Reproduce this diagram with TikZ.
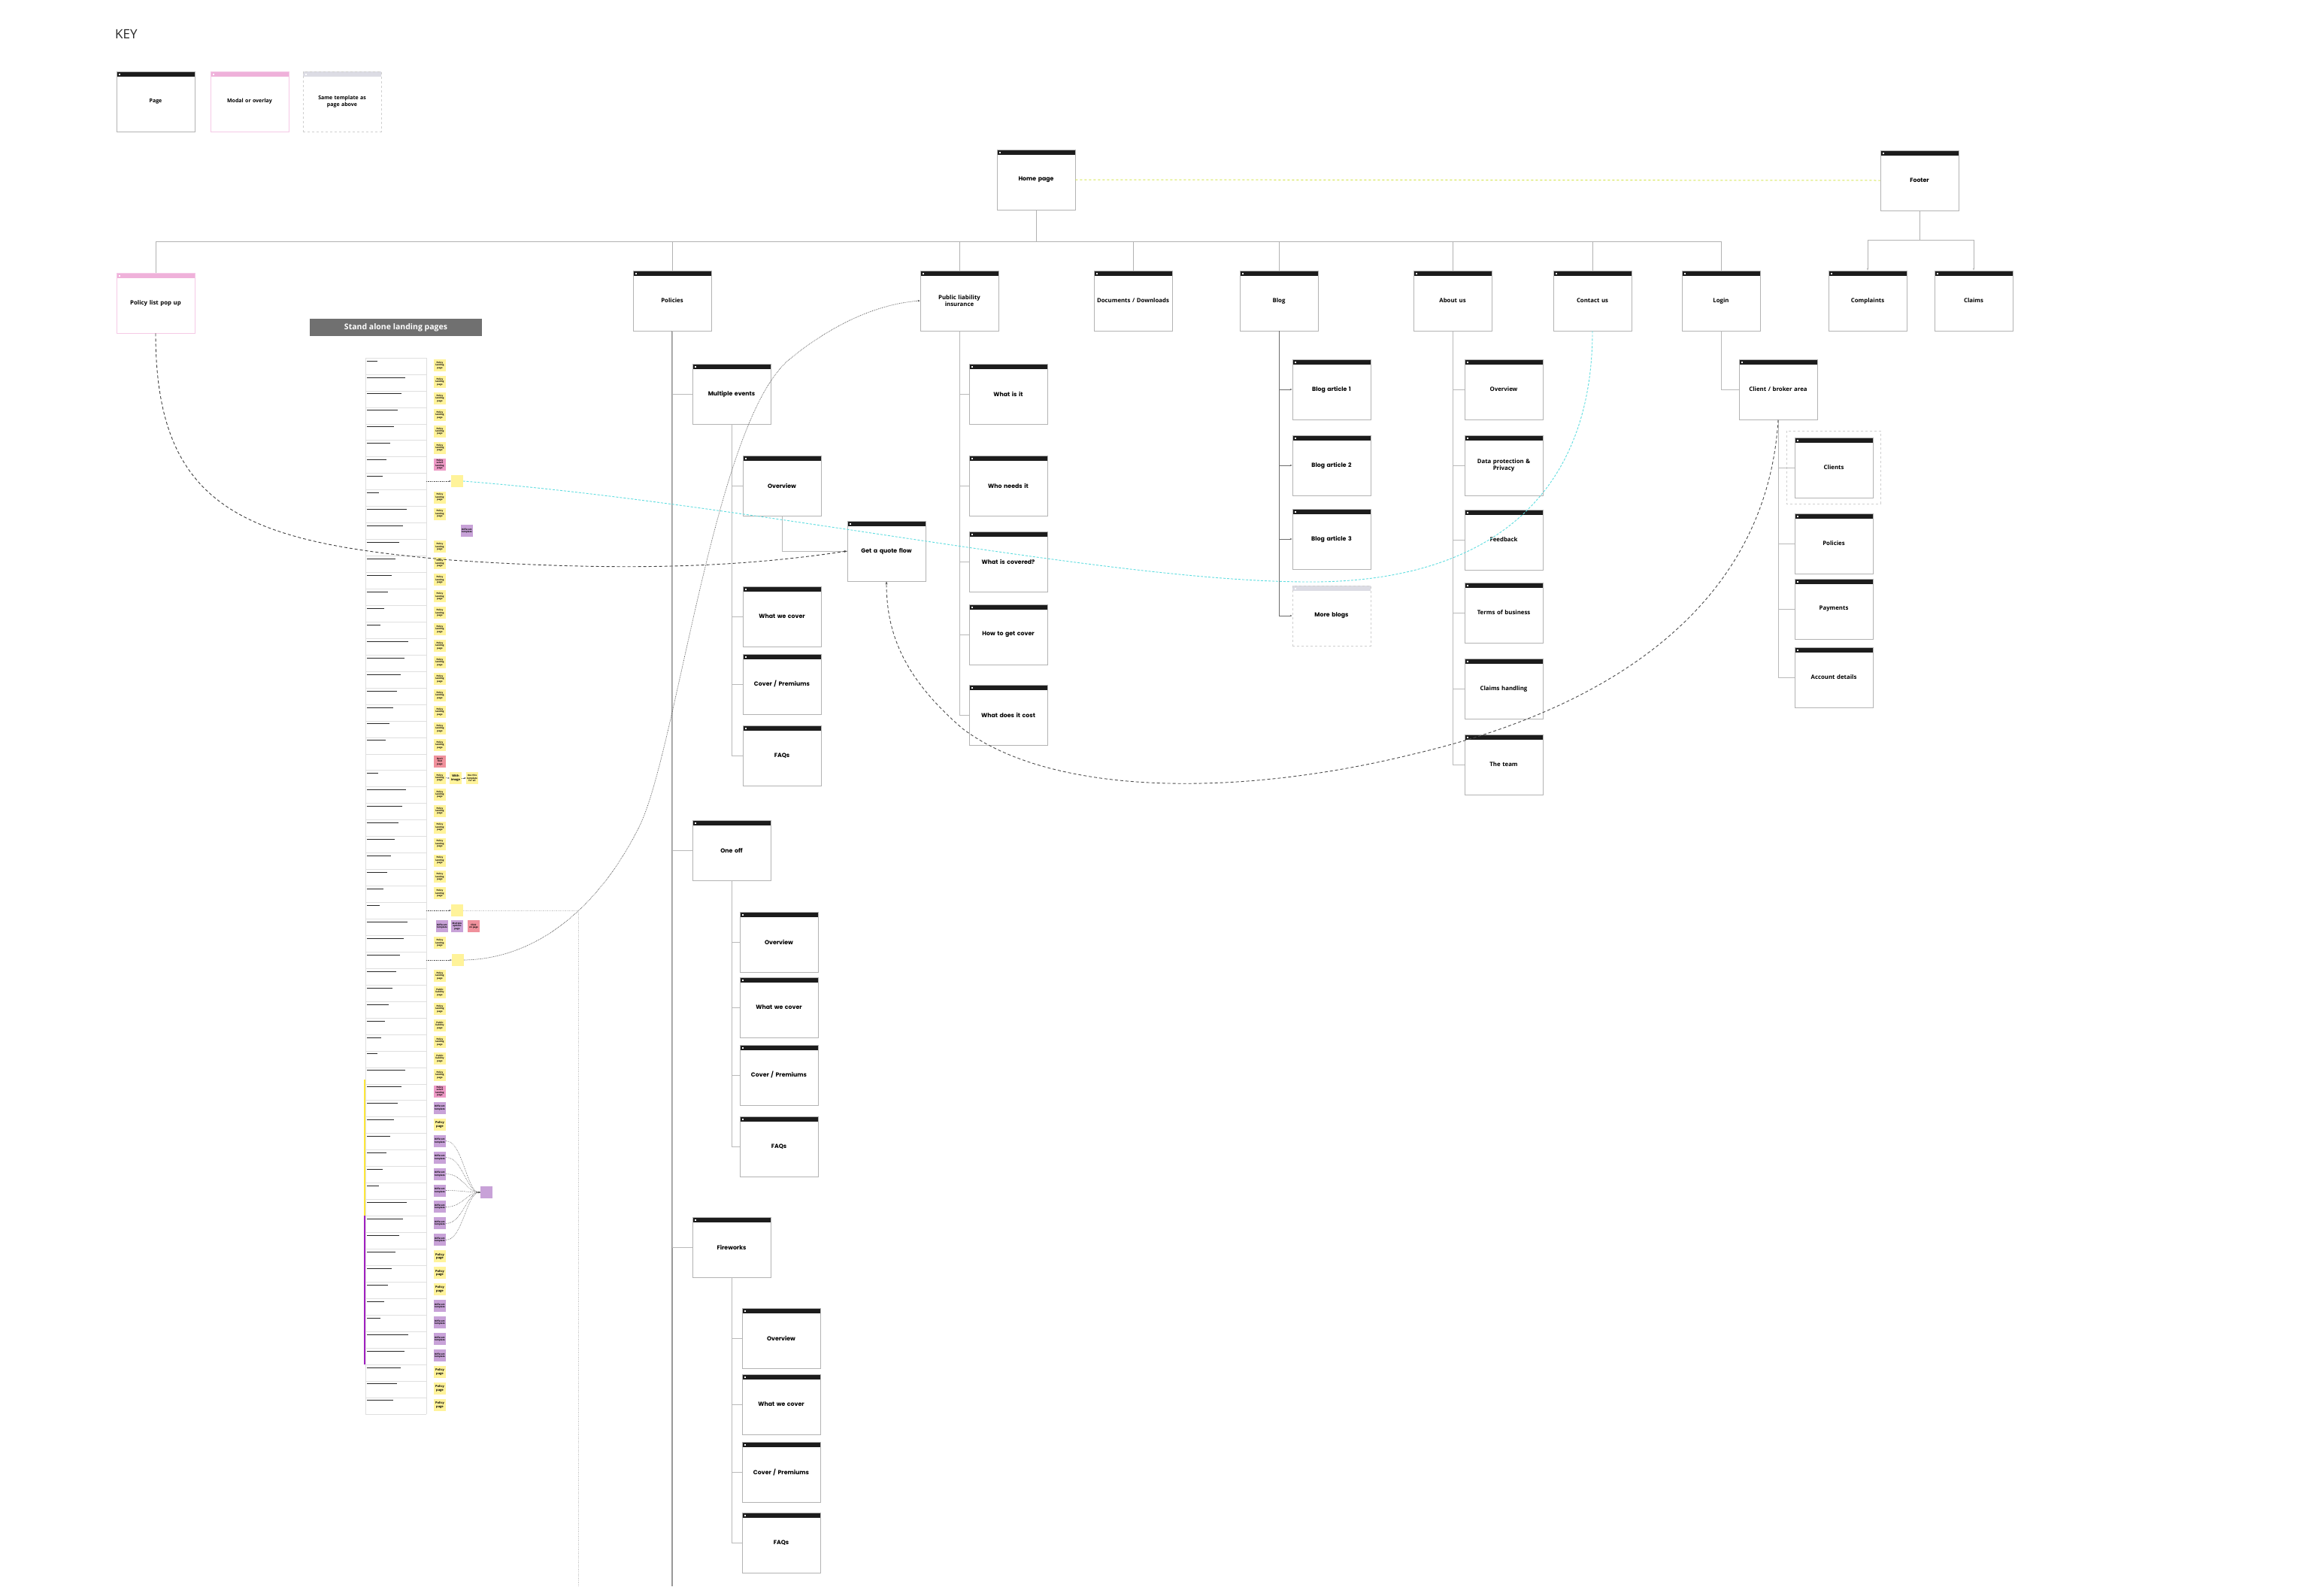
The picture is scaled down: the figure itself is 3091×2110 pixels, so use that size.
\documentclass[tikz,border=0pt]{standalone}
\usepackage{fontspec}
\setmainfont{Open Sans}
\newfontfamily\popp{Poppins}
\usetikzlibrary{arrows.meta}
\definecolor{hdr}{HTML}{1C1C1C}
\definecolor{bord}{HTML}{B3B3B3}
\definecolor{mhdr}{HTML}{EFB1DA}
\definecolor{mbord}{HTML}{F5C9E6}
\definecolor{thdr}{HTML}{DCDCE4}
\definecolor{tbord}{HTML}{CFCFCF}
\definecolor{cyanl}{HTML}{5EDDE0}
\definecolor{ygl}{HTML}{D6E650}
\definecolor{sy}{HTML}{FFF39A}
\definecolor{spk}{HTML}{EE9AC6}
\definecolor{srd}{HTML}{F0919C}
\definecolor{spu}{HTML}{C8A2D8}
\definecolor{barY}{HTML}{FFE83A}
\definecolor{barP}{HTML}{A020C0}
\newcommand\pfont{\popp\bfseries\fontsize{7.8}{9.5}\selectfont}
\newcommand\ofont{\bfseries\fontsize{7.8}{9.8}\selectfont}
\newcommand\kfont{\bfseries\fontsize{7}{9}\selectfont}
\newcommand\sfont{\bfseries\fontsize{3}{3.4}\selectfont}
\tikzset{
  hdrpic/.style={path picture={
    \fill[#1] (path picture bounding box.north west) rectangle ([yshift=-7pt]path picture bounding box.north east);
    \fill[white] ([xshift=2.5pt,yshift=-2.5pt]path picture bounding box.north west) rectangle ++(2pt,-2pt);}},
  pagebox/.style={draw=bord, line width=0.8pt, fill=white, minimum width=104pt, minimum height=80pt,
    inner sep=0pt, text width=96pt, align=center, font=\pfont, hdrpic=hdr},
  opage/.style={pagebox, font=\ofont},
  modalbox/.style={pagebox, draw=mbord, hdrpic=mhdr, font=\ofont},
  tmplbox/.style={pagebox, draw=tbord, dashed, hdrpic=thdr},
  conn/.style={draw=gray!55, line width=0.8pt},
  bus/.style={draw=gray!60, line width=1pt},
  trunk/.style={draw=gray!80, line width=2pt},
  darktrunk/.style={draw=gray!85!black, line width=1pt},
  arr/.style={-{Stealth[length=3pt,width=2.4pt]}},
  stk/.style={minimum width=16pt, minimum height=16pt, inner sep=0pt, text width=15.5pt, align=center, font=\sfont},
  yplp/.style={stk, fill=sy, node contents={Policy\\landing\\page}},
  ypub/.style={stk, fill=sy, node contents={Public\\liability\\page}},
  ypp/.style={stk, fill=sy, font=\bfseries\fontsize{4}{4.6}\selectfont, node contents={Policy\\page}},
  pksel/.style={stk, fill=spk, node contents={Policy select\\landing\\page}},
  pudt/.style={stk, fill=spu, node contents={Different\\template}},
  rowline/.style={draw=gray!25, line width=0.6pt},
  rowtxt/.style={draw=black!85, line width=0.9pt},
  dotarr/.style={draw=gray!70!black, densely dotted, line width=0.6pt, -{Stealth[length=2.5pt,width=2pt]}},
  fan/.style={draw=gray!70!black, densely dotted, line width=0.6pt, -{Stealth[length=2.5pt,width=2pt]}},
}
\begin{document}
\begin{tikzpicture}[x=1pt,y=-1pt]
\useasboundingbox (0,0) rectangle (3091,2110);
\fill[white] (0,0) rectangle (3091,2110);

% ---------- KEY ----------
\node[anchor=west, font=\fontsize{17}{20}\selectfont, text=black!85, inner sep=0pt] (key) at (153,45) {KEY};
\node[opage, font=\kfont] (kpage) at (207,135) {Page};
\node[modalbox, font=\kfont] (kmodal) at (332,135) {Modal or overlay};
\node[tmplbox, font=\kfont] (ktmpl) at (455,135) {Same template as\\page above};

% ---------- top level ----------
\node[pagebox] (home) at (1378,239) {Home page};
\node[pagebox] (footer) at (2553,240) {Footer};

\node[modalbox] (plp) at (207,403) {Policy list pop up};
\node[opage] (pol) at (894,400) {Policies};
\node[opage] (pl) at (1276,400) {Public liability\\insurance};
\node[opage] (docs) at (1507,400) {Documents / Downloads};
\node[opage] (blog) at (1701,400) {Blog};
\node[opage] (about) at (1932,400) {About us};
\node[opage] (contact) at (2118,400) {Contact us};
\node[opage] (login) at (2289,400) {Login};
\node[opage] (compl) at (2484,400) {Complaints};
\node[opage] (claims) at (2625,400) {Claims};

\coordinate (busL) at (1378,321);
\coordinate (fbus) at (2553,319);
\draw[bus] (home.south) -- (busL);
\foreach \n in {plp,pol,pl,docs,blog,about,contact,login} \draw[bus] (busL) -| (\n.north);
\draw[bus] (footer.south) -- (fbus);
\draw[bus, arr] (fbus) -| (compl.north);
\draw[bus, arr] (fbus) -| (claims.north);
\draw[draw=ygl, dashed, line width=1pt] (home.east) -- (footer.west);

% ---------- Policies ----------
\node[pagebox] (me) at (973,524) {Multiple events};
\node[pagebox] (meov) at (1040,646) {Overview};
\node[pagebox] (mewc) at (1040,820) {What we cover};
\node[pagebox] (mecp) at (1040,910) {Cover / Premiums};
\node[pagebox] (mefaq) at (1040,1005) {FAQs};
\node[pagebox] (quote) at (1179,733) {Get a quote flow};
\node[pagebox] (oo) at (973,1131) {One off};
\node[pagebox] (ooov) at (1036,1253) {Overview};
\node[pagebox] (oowc) at (1036,1340) {What we cover};
\node[pagebox] (oocp) at (1036,1430) {Cover / Premiums};
\node[pagebox] (oofaq) at (1036,1525) {FAQs};
\node[pagebox] (fw) at (973,1659) {Fireworks};
\node[pagebox] (fwov) at (1039,1780) {Overview};
\node[pagebox] (fwwc) at (1039,1868) {What we cover};
\node[pagebox] (fwcp) at (1039,1958) {Cover / Premiums};
\node[pagebox] (fwfaq) at (1039,2052) {FAQs};

\coordinate (polend) at (894,2110);
\draw[trunk] (pol.south) -- (polend);
\foreach \c in {me,oo,fw} \draw[conn] (pol.south) |- (\c.west);
\foreach \c in {meov,mewc,mecp,mefaq} \draw[conn] (me.south) |- (\c.west);
\foreach \c in {ooov,oowc,oocp,oofaq} \draw[conn] (oo.south) |- (\c.west);
\foreach \c in {fwov,fwwc,fwcp,fwfaq} \draw[conn] (fw.south) |- (\c.west);
\draw[conn] (meov.south) |- (quote.west);

% ---------- Public liability ----------
\node[pagebox] (plwi) at (1341,524) {What is it};
\node[pagebox] (plwn) at (1341,646) {Who needs it};
\node[pagebox] (plwc) at (1341,747) {What is covered?};
\node[pagebox] (plhow) at (1341,844) {How to get cover};
\node[pagebox] (plcost) at (1341,951) {What does it cost};
\foreach \c in {plwi,plwn,plwc,plhow,plcost} \draw[conn] (pl.south) |- (\c.west);

% ---------- Blog ----------
\node[pagebox] (b1) at (1771,518) {Blog article 1};
\node[pagebox] (b2) at (1771,619) {Blog article 2};
\node[pagebox] (b3) at (1771,717) {Blog article 3};
\node[tmplbox] (more) at (1771,819) {More blogs};
\foreach \c in {b1,b2,b3,more} \draw[darktrunk, arr] (blog.south) |- (\c.west);

% ---------- About us ----------
\node[opage] (abov) at (2000,518) {Overview};
\node[opage] (abdp) at (2000,619) {Data protection \&\\Privacy};
\node[opage] (abfb) at (2000,718) {Feedback};
\node[opage] (abtb) at (2000,815) {Terms of business};
\node[opage] (abch) at (2000,916) {Claims handling};
\node[opage] (abtm) at (2000,1017) {The team};
\foreach \c in {abov,abdp,abfb,abtb,abch,abtm} \draw[conn] (about.south) |- (\c.west);

% ---------- Login ----------
\node[opage] (cb) at (2365,518) {Client / broker area};
\draw[conn] (login.south) |- (cb.west);
\draw[draw=tbord, dashed, line width=0.7pt] (2376,573) rectangle (2501,670);
\node[opage] (cl) at (2439,622) {Clients};
\node[opage] (cpol) at (2439,723) {Policies};
\node[opage] (cpay) at (2439,810) {Payments};
\node[opage] (cacc) at (2439,901) {Account details};
\foreach \c in {cl,cpol,cpay,cacc} \draw[conn] (cb.south) |- (\c.west);

% ---------- Stand alone landing pages ----------
\node[fill=gray!60!black!80, text=white, minimum width=229pt, minimum height=23pt, inner sep=0pt,
  font=\bfseries\fontsize{10.5}{12}\selectfont] (banner) at (526.5,435.5) {Stand alone landing pages};

\foreach \i in {0,...,64} \draw[rowline] (486,{476+21.95*\i}) -- (567,{476+21.95*\i});
\draw[rowline] (486,476) -- (486,1881);
\draw[rowline] (567,476) -- (567,1881);
\foreach \i in {0,...,23,25,26,...,63} {
  \pgfmathsetmacro\w{14+mod(\i*37,42)}
  \draw[rowtxt] (488,{476+21.95*\i+4}) -- ++(\w,0);
}
\draw[draw=barY, line width=2.5pt] (485,1436) -- (485,1617);
\draw[draw=barP, line width=2.5pt] (485,1617) -- (485,1815);

\foreach \i in {0,1,2,3,4,5,8,9,11,12,13,14,15,16,17,18,19,20,21,22,23,25,26,27,28,29,30,31,32,35,37,39,41,43}
  \node (st\i) at (585,{476+21.95*\i+10}) [yplp];
\foreach \i in {38,40,42} \node (st\i) at (585,{476+21.95*\i+10}) [ypub];
\foreach \i in {46,54,55,56,61,62,63} \node (st\i) at (585,{476+21.95*\i+10}) [ypp];
\foreach \i in {6,44} \node (st\i) at (585,{476+21.95*\i+10}) [pksel];
\foreach \i in {45,47,48,49,50,51,52,53,57,58,59,60} \node (st\i) at (585,{476+21.95*\i+10}) [pudt];
\node (st10) at (621,706) [pudt];
\node[stk, fill=srd] (st24) at (585,1013) {Don't\\find\\page};
\node[stk, fill=sy, font=\bfseries\fontsize{4}{4.6}\selectfont] (wimg) at (606,1035) {With\\image};
\node[stk, fill=sy] (utpl) at (628,1035) {Use this\\template\\for all};
\draw[dotarr] (st25.east) -- (wimg.west);
\draw[dotarr] (wimg.east) -- (utpl.west);
\node (st34) at (588,1232) [pudt];
\node[stk, fill=spu] (mopt) at (608,1232) {Multiple\\options\\page};
\node[stk, fill=srd] (click) at (630,1232) {Click\\on page};

\node[stk, fill=sy] (s7) at (608,640) {};
\node[stk, fill=sy] (s33) at (608,1211) {};
\node[stk, fill=sy] (s36) at (609,1277) {};
\coordinate (r7) at (567,640);
\coordinate (r33) at (567,1211);
\coordinate (r36) at (567,1277);
\draw[dotarr] (r7) -- (s7.west);
\draw[dotarr] (r33) -- (s33.west);
\draw[dotarr] (r36) -- (s36.west);
\coordinate (boxc) at (769,1211);
\coordinate (boxb) at (769,2110);
\draw[draw=gray!40, densely dotted, line width=0.7pt] (s33.east) -- (boxc) -- (boxb);

\node[stk, fill=spu] (tgt) at (647,1586) {};
\foreach \i in {47,...,53} \draw[fan] (st\i.east) .. controls +(22,0) and +(-18,0) .. (tgt.west);

% ---------- long connectors ----------
\draw[draw=gray!50!black, dash pattern=on 4pt off 3pt, line width=0.9pt, -{Stealth[length=4pt,width=3pt]}]
  (plp.south) .. controls (207,680) and (330,722) .. (600,745)
  .. controls (850,762) and (1000,752) .. (quote.west);
\draw[draw=black!70, dash pattern=on 4pt off 3pt, line width=0.9pt, -{Stealth[length=4pt,width=3pt]}]
  (cb.south) .. controls (2350,800) and (2150,940) .. (1880,1003)
  .. controls (1650,1060) and (1400,1060) .. (1280,969)
  .. controls (1200,900) and (1179,840) .. (quote.south);
\draw[draw=cyanl, dash pattern=on 3pt off 2pt, line width=0.9pt]
  (contact.south) .. controls (2118,660) and (1980,772) .. (1750,774)
  .. controls (1480,776) and (1000,670) .. (s7.east);
\draw[draw=gray!60!black, densely dotted, line width=0.7pt, -{Stealth[length=3pt,width=2.4pt]}]
  (s36.east) .. controls (720,1275) and (800,1200) .. (850,1100)
  .. controls (900,1000) and (950,560) .. (1050,478)
  .. controls (1100,437) and (1160,405) .. (pl.west);
\end{tikzpicture}
\end{document}
